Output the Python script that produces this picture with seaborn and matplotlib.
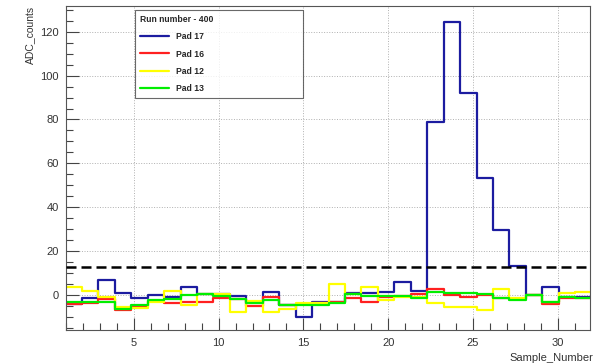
import numpy as np
import matplotlib
matplotlib.use("Agg")
import matplotlib.pyplot as plt
import seaborn as sns
from matplotlib.ticker import MultipleLocator
from matplotlib.lines import Line2D

# --- DATA ---
# 33 samples binned over 0..32, the first one falls left of the view so start at bin 1
bin_edges = np.linspace(0, 32, 34)[1:]

pad17 = [-4.1, -1.5, 6.8, 0.8, -1.5, 0.0, -1.0, 3.8, 0.5, 0.3, -0.5, -3.0,
         1.5, -4.5, -9.9, -3.3, -3.0, 0.8, 0.8, 1.5, 5.8, 2.0, 78.7, 124.5,
         91.9, 53.4, 29.5, 13.2, 0.0, 3.5, -1.0, -1.0]
pad16 = [-4.1, -3.8, -2.0, -6.8, -4.9, -2.7, -3.8, -3.2, -3.0, -1.2, -2.0, -5.0,
         -1.0, -4.3, -4.1, -3.8, -3.0, -1.5, -3.0, -0.8, -0.5, 0.5, 3.0, 0.0,
         -0.8, 0.0, -1.5, -1.8, 0.0, -4.1, -1.5, -1.5]
pad12 = [3.8, 2.0, -1.0, -5.3, -6.0, -3.3, 2.0, -4.3, 0.5, 0.5, -7.7, -2.6,
         -7.7, -6.5, -3.5, -3.5, 5.0, 0.5, 3.8, -2.3, -0.8, -1.0, -3.5, -5.6,
         -5.3, -6.8, 3.0, -1.5, 0.0, -3.0, 0.8, 1.2]
pad13 = [-3.3, -3.0, -3.0, -6.4, -4.3, -2.3, -2.0, 0.0, 0.3, -0.3, -2.0, -3.8,
         -2.3, -4.6, -4.6, -4.3, -3.8, 0.3, -0.5, -0.3, -0.3, -1.5, 1.5, 0.8,
         0.8, 0.5, -1.5, -2.3, 0.0, -3.3, -0.8, -1.5]

pad_labels = ["Pad 17", "Pad 16", "Pad 12", "Pad 13"]
pad_colors = ["#1c1ca0", "#ff2020", "#ffff00", "#00ee00"]
threshold = 12.9
legend_title = "Run number - 400"

# --- PLOT ---
sns.set_style("white")
plt.rcParams["font.family"] = ["Liberation Sans", "DejaVu Sans"]

fig = plt.figure(figsize=(5.95, 3.64), dpi=100)
ax = fig.add_axes([66 / 595, 1 - 330 / 364, 524 / 595, 324 / 364])

centers = (bin_edges[:-1] + bin_edges[1:]) / 2
for vals, col in zip([pad17, pad16, pad12, pad13], pad_colors):
    sns.histplot(x=centers, weights=np.array(vals), bins=len(centers),
                 binrange=(bin_edges[0], bin_edges[-1]), element="step",
                 fill=False, color=col, linewidth=1.6, ax=ax)

ax.axhline(threshold, color="black", linestyle=(0, (4, 2)), linewidth=1.8, zorder=5)

ax.set_xlim(1, 31.9)
ax.set_ylim(-15.9, 131.7)

ax.xaxis.set_major_locator(MultipleLocator(5))
ax.xaxis.set_minor_locator(MultipleLocator(1))
ax.yaxis.set_major_locator(MultipleLocator(20))
ax.yaxis.set_minor_locator(MultipleLocator(5))
ax.tick_params(which="both", direction="in", bottom=True, left=True,
               top=False, right=False, color="#444444", labelsize=8,
               labelcolor="#333333")
ax.tick_params(which="major", length=9, width=0.8)
ax.tick_params(which="minor", length=5, width=0.8)
ax.tick_params(axis="x", pad=6)
ax.tick_params(axis="y", pad=5)
ax.grid(True, which="major", linestyle=":", color="#b0b0b0", linewidth=0.7)
for sp in ax.spines.values():
    sp.set_color("#555555")
    sp.set_linewidth(0.8)

ax.set_xlabel("Sample_Number", fontsize=8, loc="right", color="#333333")
ax.xaxis.set_label_coords(1.006, -0.07)
ax.set_ylabel("ADC_counts", fontsize=7.5, loc="top", color="#333333")
ax.yaxis.set_label_coords(-0.059, 1.0)

handles = [Line2D([0], [0], color=c, lw=1.6) for c in pad_colors]
leg = ax.legend(handles, pad_labels, title=legend_title, loc="upper left",
                bbox_to_anchor=(0.1317, 0.9877, 0.32, 0.0), mode="expand",
                frameon=True, fancybox=False, edgecolor="#444444",
                prop={"weight": "bold", "size": 6.2},
                title_fontproperties={"weight": "bold", "size": 6.2},
                alignment="left", handlelength=3.4, handletextpad=0.8,
                labelspacing=0.95, borderpad=0.6, borderaxespad=0)
leg.get_frame().set_linewidth(0.8)

fig.savefig("out.png", dpi=100)
